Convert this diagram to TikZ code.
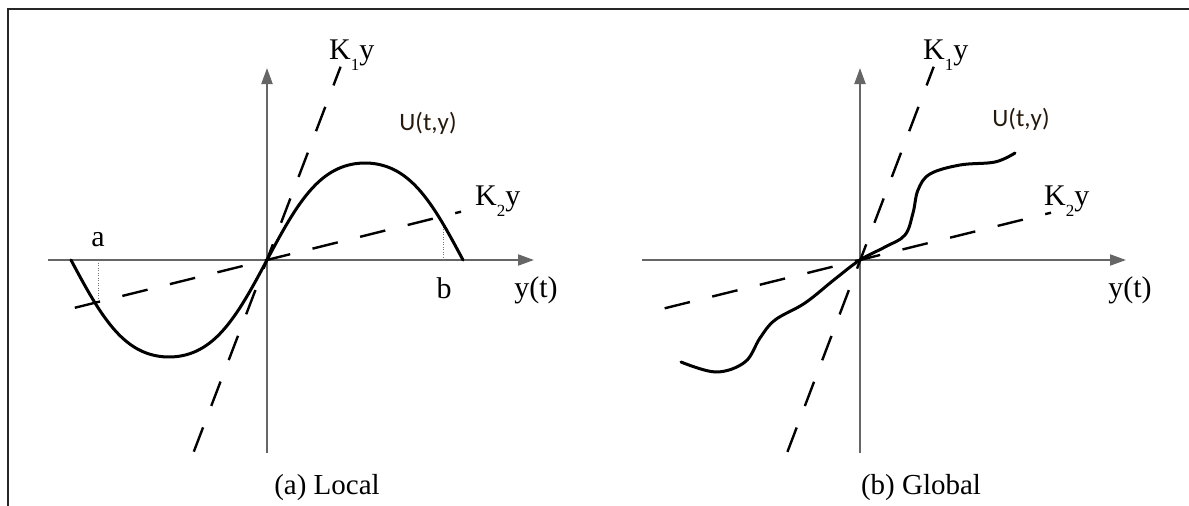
\documentclass[tikz,border=0pt]{standalone}
\usepackage{fontspec}
\setmainfont{Liberation Serif}
\newfontfamily\calib{Carlito}
\usetikzlibrary{arrows.meta}
\newcommand{\lowsub}[1]{\raisebox{-11pt}{\fontsize{17}{17}\selectfont #1}}
\begin{document}
\begin{tikzpicture}[x=1pt,y=-1pt,
  frameline/.style={draw=black!85, line width=2.5pt},
  axisline/.style={draw=black!60, line width=2pt, -{Triangle[length=16pt,width=11pt]}},
  plainaxis/.style={draw=black!60, line width=2pt},
  dashline/.style={draw=black, line width=2.4pt, dash pattern=on 26pt off 23pt},
  curveline/.style={draw=black, line width=3pt, line cap=round},
  dotline/.style={draw=black!55, line width=0.8pt, dash pattern=on 1pt off 1.5pt},
  lbl/.style={font=\fontsize{30}{30}\selectfont, inner sep=0pt},
  klbl/.style={font=\fontsize{30}{30}\selectfont, inner sep=0pt, anchor=base west},
  ulbl/.style={font=\calib\fontsize{25}{25}\selectfont, inner sep=0pt, text=black!80!brown},
  captext/.style={font=\fontsize{29}{29}\selectfont, inner sep=0pt}
]
\useasboundingbox (0,0) rectangle (1189,506);
\draw[frameline] (8,506) -- (8,9) -- (1189,9);

% ---------- left panel ----------
\coordinate (O1) at (267,260);
\coordinate (xl1) at (48,260);
\coordinate (xr1) at (534,260);
\coordinate (yb1) at (267,453);
\coordinate (yt1) at (267,68);
\draw[plainaxis] (xl1) -- (O1);
\draw[axisline] (O1) -- (xr1);
\draw[plainaxis] (yb1) -- (O1);
\draw[axisline] (O1) -- (yt1);

\coordinate (k1t1) at (340.6,66.7);
\coordinate (k1b1) at (193.3,453);
\coordinate (k2r1) at (461,211.7);
\coordinate (k2l1) at (72.7,308.3);
\draw[dashline, dash phase=6pt] (k1t1) -- (k1b1);
\draw[dashline, dash phase=20pt] (k2r1) -- (k2l1);

\coordinate (a0) at (98.7,260);
\coordinate (a1) at (98.7,299);
\coordinate (b0) at (443,260);
\coordinate (b1) at (443,222);
\draw[dotline] (a0) -- (a1);
\draw[dotline] (b0) -- (b1);

\draw[curveline] plot[domain=-196:196, samples=120, smooth]
  ({267+\x},{260-(102*sin(\x/196*180)+5*sin(3*(\x/196*180)))});

\node[klbl] (k1lab1) at (329,59) {K\lowsub{1}y};
\node[klbl] (k2lab1) at (475,205) {K\lowsub{2}y};
\node[ulbl] (ulab1) at (428,123) {U(t,y)};
\node[lbl] (alab) at (98,240) {a};
\node[lbl] (blab) at (444,288) {b};
\node[lbl] (ytlab1) at (536,290) {y(t)};
\node[captext] (capa) at (327,488) {(a) Local};

% ---------- right panel ----------
\coordinate (O2) at (860,260);
\coordinate (xl2) at (642,260);
\coordinate (xr2) at (1126,260);
\coordinate (yb2) at (860,453);
\coordinate (yt2) at (860,68);
\draw[plainaxis] (xl2) -- (O2);
\draw[axisline] (O2) -- (xr2);
\draw[plainaxis] (yb2) -- (O2);
\draw[axisline] (O2) -- (yt2);

\coordinate (k1t2) at (933.7,66.7);
\coordinate (k1b2) at (787,453);
\coordinate (k2r2) at (1051,212.7);
\coordinate (k2l2) at (664.6,308.3);
\draw[dashline, dash phase=6pt] (k1t2) -- (k1b2);
\draw[dashline, dash phase=20pt] (k2r2) -- (k2l2);

\draw[curveline] plot[smooth, tension=0.6] coordinates {
  (681,362) (716,372) (745,362) (760,338) (775,320) (805,303) (835,279)
  (860,260) (885,247) (905,235) (913,213) (918,190) (930,174) (960,165)
  (995,162) (1015,153)};

\node[klbl] (k1lab2) at (923,59) {K\lowsub{1}y};
\node[klbl] (k2lab2) at (1044,205) {K\lowsub{2}y};
\node[ulbl] (ulab2) at (1021,119) {U(t,y)};
\node[lbl] (ytlab2) at (1130,290) {y(t)};
\node[captext] (capb) at (921,488) {(b) Global};
\end{tikzpicture}
\end{document}
